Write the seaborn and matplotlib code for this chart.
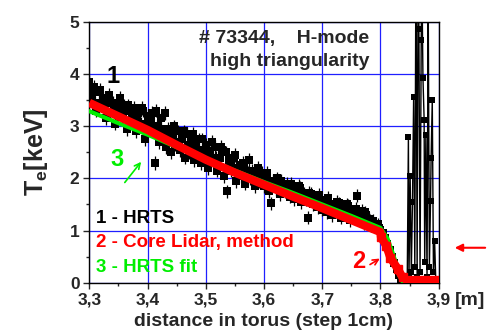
import numpy as np
import pandas as pd
import matplotlib
matplotlib.use("Agg")
import matplotlib.pyplot as plt
from matplotlib.ticker import MultipleLocator, FuncFormatter
import seaborn as sns

# ---- data ----
# HRTS, first group of profiles (1 cm sampling, several shots overlaid)
hrts_x = np.round(np.arange(3.300, 3.8001, 0.004), 3)
hrts_te = [3.85, 3.55, 3.75, 3.30, 3.65, 3.40, 3.55, 3.15, 3.50, 3.25,
           3.45, 3.05, 3.30, 3.55, 3.20, 3.40, 2.95, 3.30, 3.10, 3.35,
           2.90, 3.25, 3.05, 3.30, 2.75, 3.20, 2.95, 3.25, 2.30, 3.00,
           2.70, 3.15, 2.85, 2.60, 2.95, 2.50, 2.80, 2.65, 2.90, 2.55,
           2.75, 2.40, 2.85, 2.50, 2.70, 2.35, 2.60, 2.75, 2.30, 2.55,
           2.65, 2.20, 2.50, 2.35, 2.60, 2.15, 2.40, 2.55, 2.05, 1.75,
           2.35, 2.15, 2.40, 1.95, 2.20, 2.05, 2.30, 1.90, 2.10, 2.00,
           2.15, 1.85, 2.05, 1.95, 2.10, 1.85, 2.00, 1.75, 1.52, 1.95,
           1.80, 1.92, 1.70, 1.85, 1.75, 1.90, 1.65, 1.80, 1.60, 1.75,
           1.85, 1.55, 1.70, 1.60, 1.25, 1.70, 1.50, 1.62, 1.45, 1.58,
           1.40, 1.55, 1.35, 1.50, 1.30, 1.45, 1.38, 1.52, 1.25, 1.42,
           1.32, 1.48, 1.20, 1.35, 1.28, 1.67, 1.25, 1.38, 1.15, 1.30,
           1.22, 1.10, 1.18, 1.08, 1.12, 1.02]
# second group
hrts2_te = [3.60, 3.45, 3.70, 3.35, 3.60, 3.30, 3.45, 3.25, 3.40, 3.20,
            3.15, 3.35, 3.05, 3.10, 3.30, 2.95, 3.25, 2.85, 3.00, 2.70,
            2.90, 2.65, 2.85, 2.55, 2.75, 2.45, 2.70, 2.40, 2.60, 2.50,
            2.30, 2.45, 2.25, 2.20, 2.35, 2.05, 2.20, 1.95, 2.10, 1.85,
            2.00, 1.95, 1.78, 1.90, 1.70, 1.82, 1.65, 1.72, 1.55, 1.68,
            1.50, 1.62, 1.42, 1.55, 1.35, 1.50, 1.30, 1.42, 1.25, 1.35,
            1.18, 1.12, 1.05]
hrts2_x = np.round(3.302 + 0.008 * np.arange(len(hrts2_te)), 3)
hrts_err = 0.13

tail_x = [3.804, 3.808, 3.812, 3.816, 3.820, 3.824, 3.828, 3.832, 3.836, 3.840]
tail_te = [0.95, 0.85, 0.75, 0.62, 0.50, 0.38, 0.26, 0.15, 0.06, 0.02]

edge_x = [3.846, 3.848, 3.849, 3.851, 3.853, 3.855, 3.857, 3.859, 3.861, 3.863,
          3.865, 3.866, 3.868, 3.870, 3.871, 3.873, 3.875, 3.876, 3.878, 3.880,
          3.882, 3.884, 3.886, 3.887, 3.889, 3.891, 3.893, 3.895]
edge_te = [0.05, 2.80, 0.10, 2.05, 0.20, 1.54, 3.57, 0.30, 6.50, 0.10,
           7.50, 4.87, 0.20, 4.65, 6.00, 3.93, 3.13, 0.40, 2.83, 0.10,
           5.50, 0.30, 1.56, 2.40, 3.51, 0.20, 0.80, 0.05]

lidar_x = [3.30, 3.35, 3.40, 3.45, 3.50, 3.55, 3.60, 3.65, 3.70, 3.75, 3.80]
lidar_te = [3.45, 3.19, 2.93, 2.64, 2.36, 2.11, 1.88, 1.65, 1.43, 1.20, 0.97]
lidar_sq_x = [3.801, 3.810, 3.817, 3.830, 3.838]
lidar_sq_te = [0.87, 0.71, 0.48, 0.26, 0.10]
lidar_flat_x = [3.838, 3.900]
lidar_flat_te = [0.06, 0.06]

fit_x = [3.30, 3.35, 3.40, 3.45, 3.50, 3.55, 3.60, 3.65, 3.70, 3.75, 3.80,
         3.812, 3.820, 3.826, 3.832, 3.838]
fit_te = [3.29, 3.06, 2.84, 2.60, 2.38, 2.15, 1.93, 1.72, 1.50, 1.28, 1.05,
          0.85, 0.60, 0.40, 0.15, 0.02]

sns.set_style("ticks")
plt.rcParams['font.family'] = ['Liberation Sans', 'DejaVu Sans']
plt.rcParams['font.weight'] = 'bold'
plt.rcParams['mathtext.fontset'] = 'custom'
plt.rcParams['mathtext.rm'] = 'Liberation Sans:bold'
plt.rcParams['mathtext.it'] = 'Liberation Sans:bold'

fig = plt.figure(figsize=(4.89, 3.33), dpi=100)
ax = fig.add_axes([0.1826, 0.1511, 0.7145, 0.7828])

ax.grid(True, which='major', color='#1f1fff', lw=0.9)
ax.set_axisbelow(True)

# HRTS points with error bars
all_x = list(hrts_x) + list(hrts2_x)
all_te = hrts_te + hrts2_te
ax.errorbar(all_x, all_te, yerr=hrts_err, fmt='none', ecolor='black', elinewidth=0.9, zorder=2)
df_h = pd.DataFrame({'x': all_x + tail_x, 'te': all_te + tail_te})
sns.scatterplot(data=df_h, x='x', y='te', marker='s', s=30, color='black',
                edgecolor='black', linewidth=0, ax=ax, zorder=3)

# edge spikes
df_e = pd.DataFrame({'x': edge_x, 'te': edge_te})
sns.lineplot(data=df_e, x='x', y='te', sort=False, estimator=None, color='black',
             lw=1.0, marker='s', markersize=4.5, markeredgewidth=0, ax=ax, zorder=3)

# HRTS fit
df_f = pd.DataFrame({'x': fit_x, 'te': fit_te})
sns.lineplot(data=df_f, x='x', y='te', sort=False, estimator=None, color='#00ee00',
             lw=3.0, ax=ax, zorder=4)

# Core lidar
df_l = pd.DataFrame({'x': lidar_x + lidar_sq_x, 'te': lidar_te + lidar_sq_te})
sns.lineplot(data=df_l, x='x', y='te', sort=False, estimator=None, color='red',
             lw=6.0, solid_capstyle='butt', ax=ax, zorder=5)
ax.plot(lidar_sq_x, lidar_sq_te, ls='none', marker='s', ms=6, color='red', zorder=5)
df_lf = pd.DataFrame({'x': lidar_flat_x, 'te': lidar_flat_te})
sns.lineplot(data=df_lf, x='x', y='te', estimator=None, color='red', lw=6.0,
             solid_capstyle='butt', ax=ax, zorder=5)

ax.set_xlim(3.3, 3.9)
ax.set_ylim(0, 5)
ax.xaxis.set_major_locator(MultipleLocator(0.1))
ax.xaxis.set_minor_locator(MultipleLocator(0.05))
ax.yaxis.set_major_locator(MultipleLocator(1))
ax.yaxis.set_minor_locator(MultipleLocator(0.5))
ax.xaxis.set_major_formatter(FuncFormatter(lambda v, p: f"{v:.1f}".replace('.', ',')))
ax.yaxis.set_major_formatter(FuncFormatter(lambda v, p: f"{v:.0f}"))
ax.tick_params(which='major', length=4, width=1, labelsize=12.5, direction='out', pad=3)
ax.tick_params(which='minor', length=2.5, width=1, direction='out')
for lab in ax.get_xticklabels() + ax.get_yticklabels():
    lab.set_fontweight('bold')
for s in ax.spines.values():
    s.set_linewidth(1.0)
    s.set_color('black')

ax.set_xlabel('distance in torus (step 1cm)', fontsize=14, fontweight='bold', labelpad=4)
ax.set_ylabel(r'T$_\mathregular{e}$[keV]', fontsize=18, fontweight='bold', labelpad=14)
ax.text(1.045, -0.035, '[m]', transform=ax.transAxes, fontsize=14, fontweight='bold',
        ha='left', va='top')

ax.text(3.781, 4.69, '# 73344,    H-mode', fontsize=14, fontweight='bold', ha='right', va='center')
ax.text(3.781, 4.24, 'high triangularity', fontsize=14, fontweight='bold', ha='right', va='center')

ax.text(3.311, 1.24, '1 - HRTS', fontsize=13.5, fontweight='bold', color='black', va='center')
ax.text(3.311, 0.78, '2 - Core Lidar, method', fontsize=13.5, fontweight='bold', color='red', va='center')
ax.text(3.311, 0.30, '3 - HRTS fit', fontsize=13.5, fontweight='bold', color='#00ee00', va='center')

ax.text(3.341, 3.96, '1', fontsize=17, fontweight='bold', color='black', va='center', ha='center')
ax.text(3.347, 2.36, '3', fontsize=17, fontweight='bold', color='#00ee00', va='center', ha='center')
ax.annotate('', xy=(3.392, 2.36), xytext=(3.358, 1.88),
            arrowprops=dict(arrowstyle='->', color='#00ee00', lw=1.2))
ax.text(3.762, 0.40, '2', fontsize=17, fontweight='bold', color='red', va='center', ha='center')
ax.annotate('', xy=(3.803, 0.49), xytext=(3.778, 0.32),
            arrowprops=dict(arrowstyle='->', color='red', lw=1.2))

# red arrow outside the frame on the right
ax.annotate('', xy=(1.038, 0.134), xytext=(1.141, 0.134), xycoords='axes fraction',
            textcoords='axes fraction', annotation_clip=False,
            arrowprops=dict(arrowstyle='-|>', color='red', lw=1.5, mutation_scale=11))

fig.savefig('out.png', dpi=100)
